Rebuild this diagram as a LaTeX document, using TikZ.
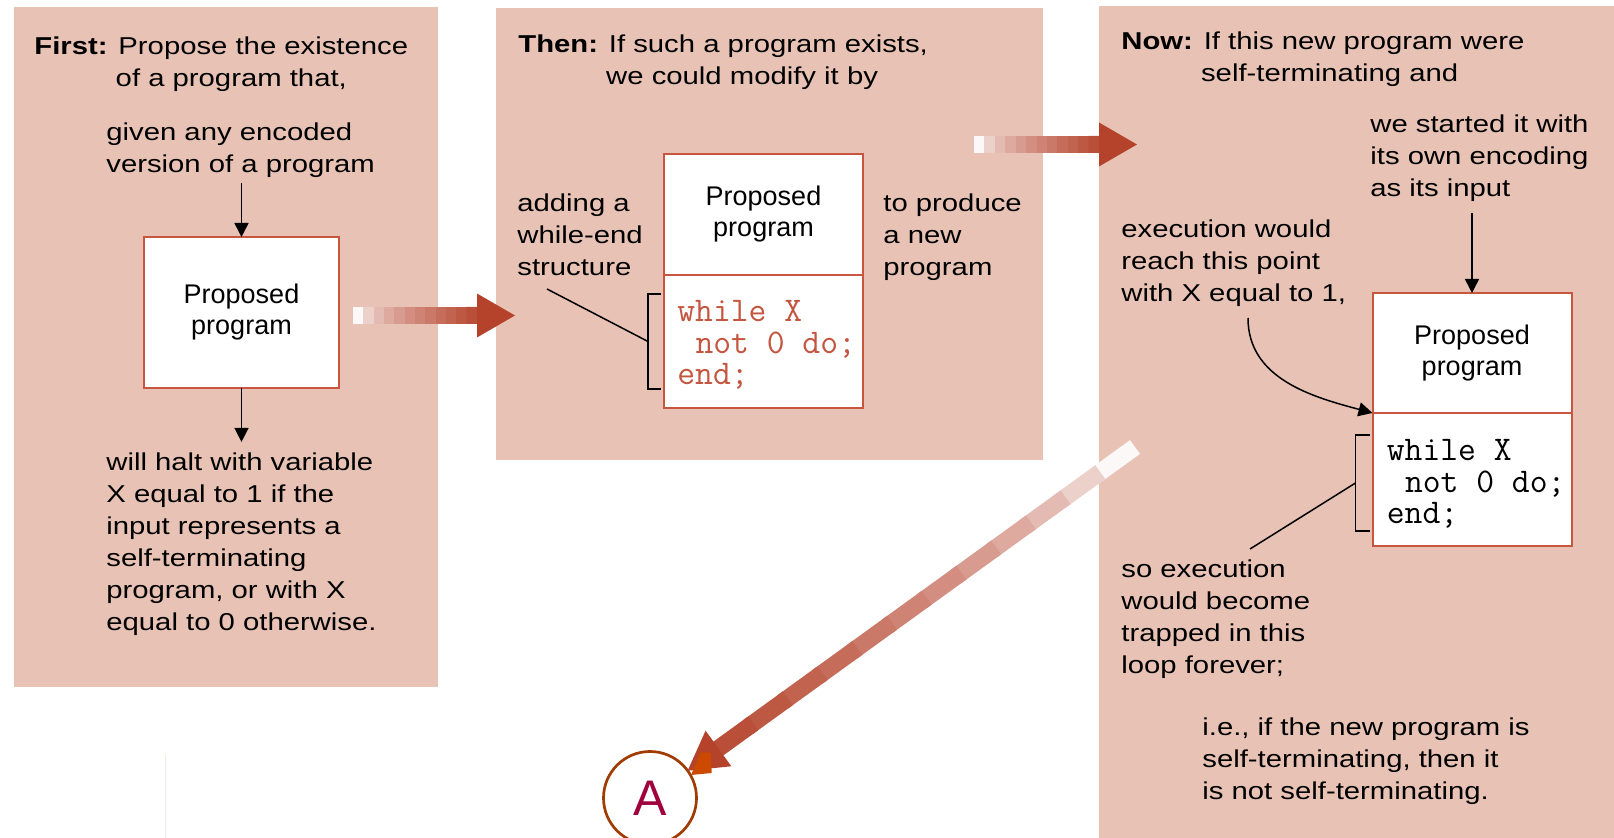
\documentclass[tikz,border=0pt]{standalone}
\usepackage{fontspec}
\setmainfont[FakeStretch=1.2]{Liberation Sans}
\newfontfamily\progfont{Liberation Sans}
\usetikzlibrary{arrows.meta,positioning,calc}
\definecolor{panelpink}{HTML}{E8C3B5}
\definecolor{boxred}{HTML}{C8553D}
\definecolor{codered}{HTML}{C4553F}
\definecolor{arrowred}{HTML}{B5432C}
\definecolor{ringbrown}{HTML}{A03C00}
\definecolor{letterred}{HTML}{A0003C}
\definecolor{tiporange}{HTML}{CC4A00}
\tikzset{
  panel/.style={fill=panelpink, draw=none},
  txt/.style={font=\fontsize{12.2}{16}\selectfont, align=left, inner sep=0pt, anchor=base west},
  prog/.style={draw=boxred, line width=1pt, fill=white, minimum width=99.5pt, outer sep=0pt, inner sep=0pt,
    font=\progfont\fontsize{13.5}{15.5}\selectfont, align=center},
  code/.style={font=\ttfamily\fontsize{17.3}{15.75}\selectfont, align=left, inner sep=0pt, anchor=base west},
  ptr/.style={draw, line width=0.75pt, -{Triangle[length=7pt,width=7pt]}},
  lead/.style={draw, line width=0.75pt},
  ring/.style={circle, draw=ringbrown, line width=1.35pt, minimum size=46.5pt, inner sep=0pt,
    text=letterred, font=\progfont\fontsize{25}{25}\selectfont}
}
% shaded block arrow, tail #1 to tip #2
\newcommand\fadearrow[2]{%
  \coordinate (fade-neck) at ($(#2)!19pt!(#1)$);
  \foreach \k in {0,...,11}{%
    \pgfmathsetmacro\fromt{\k/12}%
    \pgfmathsetmacro\tot{(\k+1.15)/12}%
    \pgfmathtruncatemacro\fadepct{4+90*(\k/11)^0.6}%
    \draw[line width=8.5pt, arrowred!\fadepct!white] ($(#1)!\fromt!(fade-neck)$) -- ($(#1)!\tot!(fade-neck)$);
  }
  \fill[arrowred] (#2) -- ($(fade-neck)!11pt!90:(#2)$) -- ($(fade-neck)!11pt!-90:(#2)$) -- cycle;
}

\begin{document}
\begin{tikzpicture}[x=0.5pt, y=-0.5pt]
\useasboundingbox (0,0) rectangle (1614,838);
\clip (0,0) rectangle (1614,838);

\fill[panel] (14,7) rectangle (438,687);
\fill[panel] (496,8) rectangle (1043,460);
\fill[panel] (1099,6) rectangle (1620,845);
\draw[line width=0.5pt, panelpink!35] (165,755) -- (165,840);

% first panel
\node[txt] (head1) at (34,87) {\textbf{First:} Propose the existence\\\phantom{\textbf{First:}\ }of a program that,};
\node[txt] (given1) at (106,173) {given any encoded\\version of a program};
\node[prog, minimum width=97.5pt, minimum height=75.5pt] (box1) at (241.5,312.5) {Proposed\\program};
\node[txt] (halt1) at (106,631) {will halt with variable\\X equal to 1 if the\\input represents a\\self-terminating\\program, or with X\\equal to 0 otherwise.};
\draw[ptr, shorten <=2.5pt] (given1.south -| box1.north) -- (box1.north);
\draw[ptr, shorten >=5.5pt] (box1.south) -- (box1.south |- halt1.north);

% second panel
\node[txt] (head2) at (518,85) {\textbf{Then:} If such a program exists,\\\phantom{\textbf{Then:}\ }we could modify it by};
\node[prog, minimum height=60.5pt] (box2) at (763.5,214.5) {Proposed\\program};
\node[prog, minimum height=66.5pt, below=0pt of box2] (low2) {};
\node[code, text=codered] (loop2) at ($(low2.north west)+(13,110)$) {while X\\\hspace*{0.525em}not 0 do;\\end;};
\node[txt] (adding2) at (517,276) {adding a\\while-end\\structure};
\node[txt] (produce2) at (883,276) {to produce\\a new\\program};
\draw[lead] ($(low2.north west)+(-3,19)$) -- ++(-13,0) |- ($(low2.south west)+(-3,-19)$);
\coordinate (mid2) at ($(low2.west)+(-16,0)$);
\coordinate (tail2) at (547,289);
\draw[lead] (tail2) -- (mid2);

% third panel
\node[txt] (head3) at (1121,82) {\textbf{Now:} If this new program were\\\phantom{\textbf{Now:}\ }self-terminating and};
\node[txt] (started3) at (1370,197) {we started it with\\its own encoding\\as its input};
\node[prog, minimum height=60pt] (box3) at (1472,353) {Proposed\\program};
\node[prog, minimum height=66.5pt, below=0pt of box3] (low3) {};
\node[code] (loop3) at ($(low3.north west)+(14,111)$) {while X\\\hspace*{0.525em}not 0 do;\\end;};
\node[txt] (exec3) at (1121,302) {execution would\\reach this point\\with X equal to 1,};
\node[txt] (trapped3) at (1121,674) {so execution\\would become\\trapped in this\\loop forever;};
\node[txt] (ie3) at (1202,800) {i.e., if the new program is\\self-terminating, then it\\is not self-terminating.};
\draw[ptr, shorten <=5.5pt] (started3.south -| box3.north) -- (box3.north);
\coordinate (bend3) at (1248,318);
\draw[ptr] (bend3) to[out=-90, in=165] (box3.south west);
\draw[lead] ($(low3.north west)+(-3,22)$) -- ++(-14,0) |- ($(low3.south west)+(-3,-15)$);
\coordinate (mid3) at ($(low3.north west)+(-17,70)$);
\coordinate (tail3) at (1250,549);
\draw[lead] (tail3) -- (mid3);

% big arrows
\node[ring] (ringA) at (650,798) {A};
\coordinate (a1s) at (353,315.5);
\coordinate (a1t) at (515,315.5);
\coordinate (a2s) at (974,144.5);
\coordinate (a2t) at (1137,144.5);
\coordinate (a3s) at (1135,447);
\coordinate (a3t) at ($(ringA.center)!23.25pt!(a3s)$);
\fadearrow{a1s}{a1t}
\fadearrow{a2s}{a2t}
\fadearrow{a3s}{a3t}
\fill[tiporange] (691,775) -- (700.7,752.7) -- (710.7,752.7) -- (711.7,773) -- cycle;
\end{tikzpicture}
\end{document}
